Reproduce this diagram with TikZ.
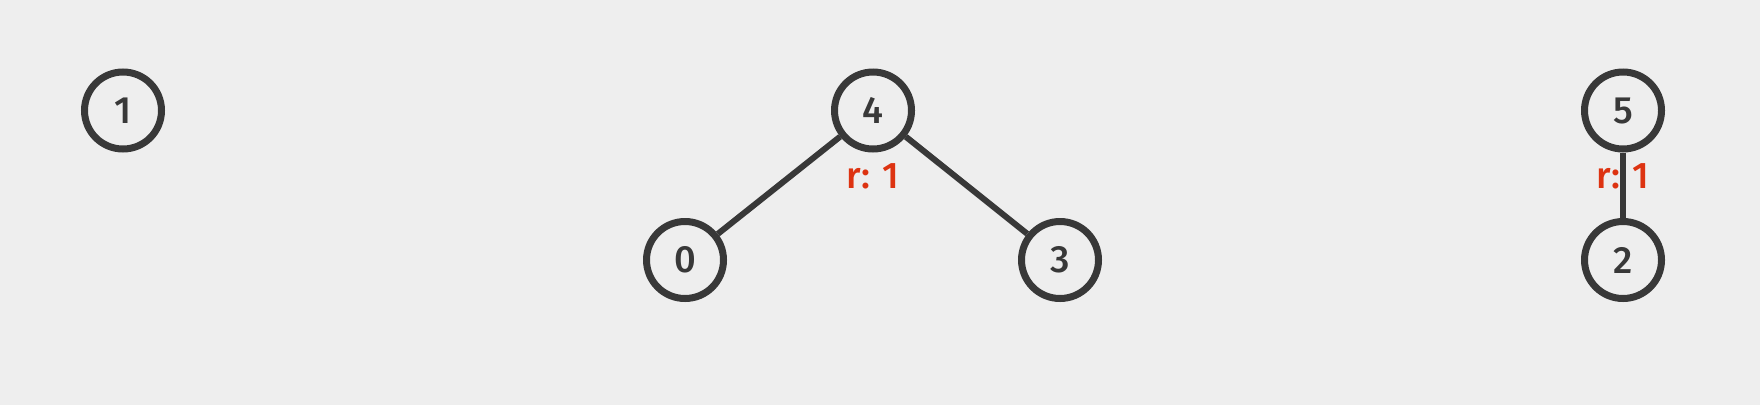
\documentclass[tikz,border=0pt]{standalone}
\usepackage{fontspec}
\setmainfont{Fira Sans}
\newfontfamily\medfont{Fira Sans Medium}
\usetikzlibrary{positioning}
\definecolor{bgcol}{HTML}{EEEEEE}
\definecolor{inkcol}{HTML}{383838}
\definecolor{rankcol}{HTML}{DD3311}
\begin{document}
\begin{tikzpicture}[
  x=1pt, y=-1pt,
  vert/.style={circle, draw=inkcol, line width=7pt, fill=bgcol, inner sep=0pt,
               minimum size=77pt, text=inkcol, font=\fontsize{38}{40}\medfont},
  rlab/.style={inner sep=0pt, text=rankcol, font=\fontsize{37}{40}\medfont},
  link/.style={draw=inkcol, line width=6pt}
]
\fill[bgcol] (0,0) rectangle (1760,405);
% trees
\node[vert] (v1) at (123,110.5) {1};
\node[vert] (v4) at (873,110.5) {4};
\node[vert] (v0) at (685,260)   {0};
\node[vert] (v3) at (1060,260)  {3};
\node[vert] (v5) at (1623,110.5) {5};
\node[vert] (v2) at (1623,260)  {2};
\draw[link] (v4) -- (v0);
\draw[link] (v4) -- (v3);
\draw[link] (v5) -- (v2);
% ranks
\node[rlab] (r4) at (873,176)  {r: 1};
\node[rlab] (r5) at (1623,176) {r: 1};
\end{tikzpicture}
\end{document}
